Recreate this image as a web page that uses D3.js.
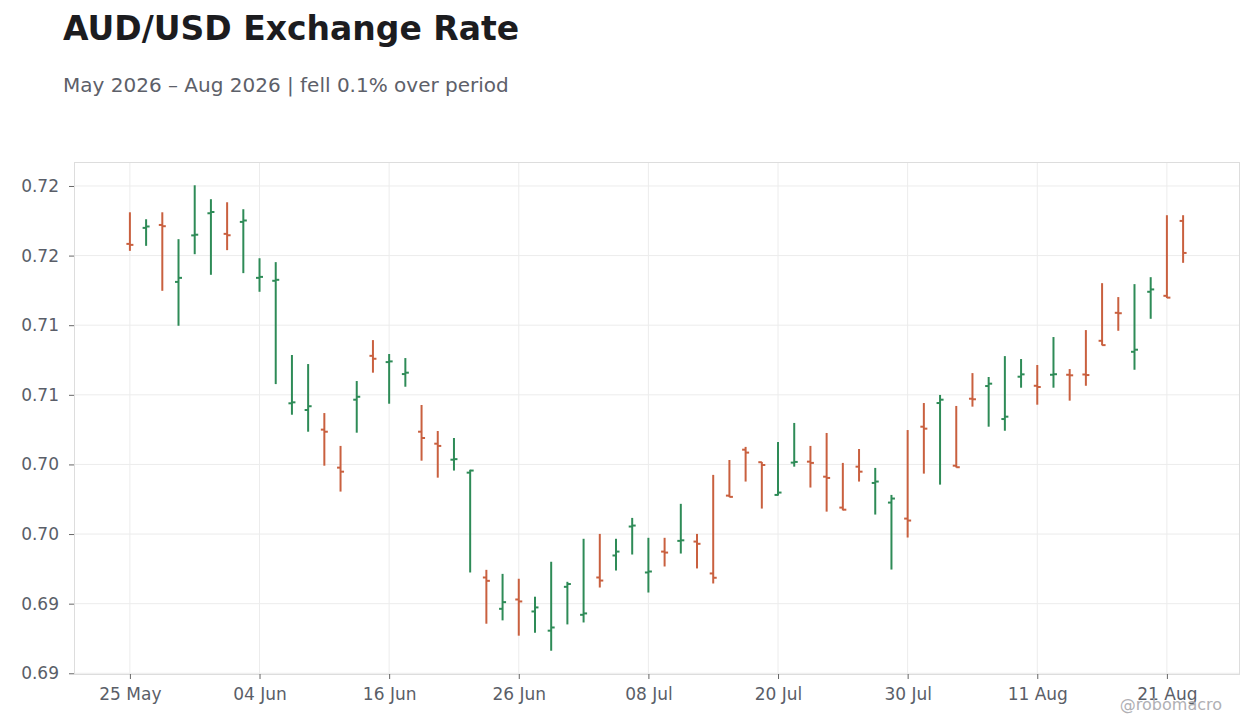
<!DOCTYPE html>
<html>
<head>
<meta charset="utf-8">
<script src="https://cdn.jsdelivr.net/npm/d3@7/dist/d3.min.js"></script>
<style>
  html, body { margin: 0; padding: 0; background: #ffffff; }
  svg { display: block; }
  text { font-family: "DejaVu Sans", sans-serif; }
</style>
</head>
<body>
<svg id="chart" width="1260" height="728"></svg>
<script>
// ---- data ----
const dates = [
  "2026-05-25","2026-05-26","2026-05-27","2026-05-28","2026-05-29",
  "2026-06-01","2026-06-02","2026-06-03","2026-06-04","2026-06-05",
  "2026-06-08","2026-06-09","2026-06-10","2026-06-11","2026-06-12",
  "2026-06-15","2026-06-16","2026-06-17","2026-06-18","2026-06-19",
  "2026-06-22","2026-06-23","2026-06-24","2026-06-25","2026-06-26",
  "2026-06-29","2026-06-30","2026-07-01","2026-07-02","2026-07-03",
  "2026-07-06","2026-07-07","2026-07-08","2026-07-09","2026-07-10",
  "2026-07-13","2026-07-14","2026-07-15","2026-07-16","2026-07-17",
  "2026-07-20","2026-07-21","2026-07-22","2026-07-23","2026-07-24",
  "2026-07-27","2026-07-28","2026-07-29","2026-07-30","2026-07-31",
  "2026-08-03","2026-08-04","2026-08-05","2026-08-06","2026-08-07",
  "2026-08-10","2026-08-11","2026-08-12","2026-08-13","2026-08-14",
  "2026-08-17","2026-08-18","2026-08-19","2026-08-20","2026-08-21",
  "2026-08-24"
];
const open = [
  0.72084,0.72199,0.72220,0.71811,0.72145,0.72304,0.72156,0.72242,0.71840,0.71819,
  0.70939,0.70891,0.70750,0.70477,0.70965,0.71280,0.71235,0.71149,0.70735,0.70649,
  0.70534,0.70441,0.69688,0.69463,0.69530,0.69444,0.69306,0.69621,0.69420,0.69688,
  0.69846,0.70054,0.69724,0.69874,0.69951,0.69946,0.69717,0.70276,0.70606,0.70516,
  0.70281,0.70513,0.70520,0.70412,0.70190,0.70484,0.70367,0.70226,0.70111,0.70771,
  0.70941,0.70491,0.70972,0.71063,0.70826,0.71130,0.71065,0.71144,0.71144,0.71146,
  0.71388,0.71589,0.71309,0.71740,0.71711,0.72249
];
const high = [
  0.72311,0.72261,0.72311,0.72118,0.72505,0.72405,0.72383,0.72333,0.71981,0.71953,
  0.71286,0.71221,0.70869,0.70633,0.71099,0.71393,0.71293,0.71264,0.70927,0.70740,
  0.70690,0.70462,0.69743,0.69714,0.69679,0.69550,0.69801,0.69657,0.69966,0.70001,
  0.69966,0.70116,0.69973,0.69973,0.70217,0.70001,0.70425,0.70532,0.70626,0.70518,
  0.70661,0.70798,0.70633,0.70726,0.70511,0.70611,0.70475,0.70281,0.70747,0.70941,
  0.70999,0.70920,0.71156,0.71128,0.71278,0.71257,0.71214,0.71415,0.71185,0.71465,
  0.71802,0.71702,0.71795,0.71845,0.72290,0.72290
];
const low = [
  0.72034,0.72070,0.71747,0.71496,0.72010,0.71862,0.72039,0.71874,0.71740,0.71077,
  0.70857,0.70735,0.70491,0.70305,0.70728,0.71159,0.70936,0.71058,0.70527,0.70405,
  0.70456,0.69724,0.69356,0.69380,0.69270,0.69291,0.69162,0.69351,0.69365,0.69616,
  0.69738,0.69853,0.69580,0.69767,0.69860,0.69753,0.69645,0.70265,0.70377,0.70183,
  0.70276,0.70484,0.70334,0.70161,0.70170,0.70377,0.70140,0.69745,0.69975,0.70434,
  0.70355,0.70478,0.70915,0.70771,0.70742,0.71051,0.70929,0.71051,0.70958,0.71065,
  0.71355,0.71460,0.71180,0.71546,0.71695,0.71948
];
const close = [
  0.72077,0.72209,0.72211,0.71840,0.72150,0.72313,0.72146,0.72252,0.71847,0.71826,
  0.70946,0.70918,0.70735,0.70448,0.70986,0.71259,0.71240,0.71159,0.70690,0.70633,
  0.70538,0.70456,0.69664,0.69511,0.69516,0.69473,0.69329,0.69641,0.69430,0.69666,
  0.69874,0.70061,0.69731,0.69867,0.69955,0.69930,0.69686,0.70267,0.70585,0.70496,
  0.70298,0.70518,0.70511,0.70403,0.70175,0.70448,0.70377,0.70255,0.70097,0.70757,
  0.70965,0.70480,0.70968,0.71080,0.70843,0.71147,0.71056,0.71148,0.71140,0.71142,
  0.71357,0.71586,0.71324,0.71757,0.71698,0.72019
];
const xTickEvery = 8;
const titleText = "AUD/USD Exchange Rate";
const subtitleText = "May 2026 \u2013 Aug 2026 | fell 0.1% over period";
const watermarkText = "@robomacro";

// ---- build rows ----
const parse = d3.timeParse("%Y-%m-%d");
const rows = dates.map((d, i) => ({
  i, date: parse(d), o: open[i], h: high[i], l: low[i], c: close[i]
}));

const W = 1260, H = 728;
const margin = { top: 162, right: 21, bottom: 54, left: 74 };
const svg = d3.select("#chart");

const UP = "#2e8b57", DOWN = "#c9603f";

// scales
const x = d3.scalePoint()
  .domain(rows.map(r => r.i))
  .range([margin.left, W - margin.right])
  .padding(3.45);

const lo = d3.min(low), hi = d3.max(high), span = hi - lo;
const y = d3.scaleLinear()
  .domain([lo - span * 0.05, hi + span * 0.05])
  .range([H - margin.bottom, margin.top]);

const yTicks = y.ticks(8);
const xTickIdx = rows.filter(r => r.i % xTickEvery === 0).map(r => r.i);
const fmtDate = d3.timeFormat("%d %b");

// title
svg.append("text")
  .attr("x", 63).attr("y", 40)
  .attr("font-size", 33).attr("font-weight", "bold")
  .attr("fill", "#1c1c1f")
  .text(titleText);
svg.append("text")
  .attr("x", 63).attr("y", 92)
  .attr("font-size", 20)
  .attr("fill", "#5d6069")
  .text(subtitleText);

// gridlines
const grid = svg.append("g");
grid.selectAll("line.gy").data(yTicks).join("line")
  .attr("x1", margin.left).attr("x2", W - margin.right)
  .attr("y1", d => y(d)).attr("y2", d => y(d))
  .attr("stroke", "#ececec").attr("stroke-width", 1);
grid.selectAll("line.gx").data(xTickIdx).join("line")
  .attr("x1", d => x(d)).attr("x2", d => x(d))
  .attr("y1", margin.top).attr("y2", H - margin.bottom)
  .attr("stroke", "#ececec").attr("stroke-width", 1);

// plot border
svg.append("rect")
  .attr("x", margin.left + 0.5).attr("y", margin.top + 0.5)
  .attr("width", W - margin.left - margin.right)
  .attr("height", H - margin.top - margin.bottom)
  .attr("fill", "none").attr("stroke", "#dddddd");

// axes
const yAxis = d3.axisLeft(y).tickValues(yTicks).tickFormat(d3.format(".2f"))
  .tickSize(5).tickPadding(10);
const gy = svg.append("g").attr("transform", `translate(${margin.left},0)`).call(yAxis);
gy.select(".domain").remove();
gy.selectAll(".tick line").attr("stroke", "#666");
gy.selectAll(".tick text").attr("font-size", 17).attr("fill", "#5a5e68")
  .attr("font-family", "DejaVu Sans, sans-serif");

const xAxis = d3.axisBottom(x).tickValues(xTickIdx)
  .tickFormat(i => fmtDate(rows[i].date)).tickSize(5).tickPadding(9);
const gx = svg.append("g").attr("transform", `translate(0,${H - margin.bottom})`).call(xAxis);
gx.select(".domain").remove();
gx.selectAll(".tick line").attr("stroke", "#666");
gx.selectAll(".tick text").attr("font-size", 17).attr("fill", "#5a5e68")
  .attr("font-family", "DejaVu Sans, sans-serif");

// OHLC bars
const tickLen = 3.5;
const bars = svg.append("g").selectAll("g.bar").data(rows).join("g")
  .attr("stroke", d => d.c >= d.o ? UP : DOWN)
  .attr("stroke-width", 2);
bars.append("line")
  .attr("x1", d => x(d.i)).attr("x2", d => x(d.i))
  .attr("y1", d => y(d.h)).attr("y2", d => y(d.l));
bars.append("line")
  .attr("x1", d => x(d.i) - tickLen).attr("x2", d => x(d.i))
  .attr("y1", d => y(d.o)).attr("y2", d => y(d.o));
bars.append("line")
  .attr("x1", d => x(d.i)).attr("x2", d => x(d.i) + tickLen)
  .attr("y1", d => y(d.c)).attr("y2", d => y(d.c));

// watermark
svg.append("text")
  .attr("x", 1222).attr("y", 710)
  .attr("text-anchor", "end")
  .attr("font-size", 16)
  .attr("fill", "#b0b0b4")
  .text(watermarkText);
</script>
</body>
</html>
